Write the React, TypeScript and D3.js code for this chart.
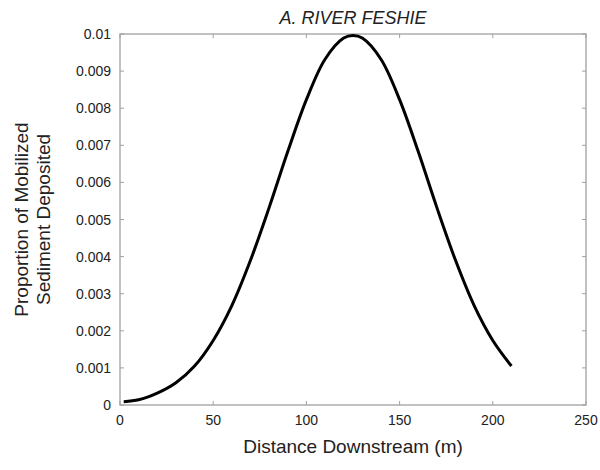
import React from "react";
import * as d3 from "d3";

const distance = [2, 10, 20, 30, 40, 50, 60, 70, 80, 90, 100, 110, 120, 125, 130, 140, 150, 160, 170, 180, 190, 200, 210];
const proportion = [0.00009, 0.00014, 0.00032, 0.0006, 0.00105, 0.00174, 0.00268, 0.0039, 0.00532, 0.00683, 0.00823, 0.00932, 0.00989, 0.00996, 0.00989, 0.00932, 0.00823, 0.00683, 0.00532, 0.0039, 0.00268, 0.00174, 0.00105];
const xTicks = [0, 50, 100, 150, 200, 250];
const yTicks = [0, 0.001, 0.002, 0.003, 0.004, 0.005, 0.006, 0.007, 0.008, 0.009, 0.01];
const yTickLabels = ["0", "0.001", "0.002", "0.003", "0.004", "0.005", "0.006", "0.007", "0.008", "0.009", "0.01"];

const W = 600, H = 470;
const L = 120, R = 586, T = 34, B = 405;
const FONT = "'Liberation Sans', Arial, sans-serif";

export default function App() {
  const x = d3.scaleLinear().domain([0, 250]).range([L, R]);
  const y = d3.scaleLinear().domain([0, 0.01]).range([B, T]);
  const pts = distance.map((d, i) => [d, proportion[i]] as [number, number]);
  const line = d3.line<[number, number]>().x(d => x(d[0])).y(d => y(d[1])).curve(d3.curveCatmullRom.alpha(0.5));
  const axisColor = "#a0a0a0";
  const tl = 4;
  return (
    <svg width={W} height={H} style={{ position: "absolute", left: 0, top: 0, background: "#fff" }} fontFamily={FONT}>
      <rect x={L} y={T} width={R - L} height={B - T} fill="none" stroke={axisColor} strokeWidth={1.3} />
      {xTicks.map((t, i) => (
        <g key={"x" + i}>
          <line x1={x(t)} x2={x(t)} y1={B} y2={B - tl} stroke={axisColor} strokeWidth={1} />
          <line x1={x(t)} x2={x(t)} y1={T} y2={T + tl} stroke={axisColor} strokeWidth={1} />
          <text x={x(t)} y={B + 20} textAnchor="middle" fontSize={14} fill="#222">{t}</text>
        </g>
      ))}
      {yTicks.map((t, i) => (
        <g key={"y" + i}>
          <line x1={L} x2={L + tl} y1={y(t)} y2={y(t)} stroke={axisColor} strokeWidth={1} />
          <line x1={R} x2={R - tl} y1={y(t)} y2={y(t)} stroke={axisColor} strokeWidth={1} />
          <text x={L - 9} y={y(t) + 5} textAnchor="end" fontSize={14} fill="#222">{yTickLabels[i]}</text>
        </g>
      ))}
      <path d={line(pts) || ""} fill="none" stroke="#000" strokeWidth={3} strokeLinecap="butt" />
      <text x={(L + R) / 2} y={24} textAnchor="middle" fontSize={18} fontStyle="italic" fill="#222">A. RIVER FESHIE</text>
      <text x={(L + R) / 2} y={453} textAnchor="middle" fontSize={19} fill="#222">Distance Downstream (m)</text>
      <text transform={`translate(28, ${(T + B) / 2}) rotate(-90)`} textAnchor="middle" fontSize={19} fill="#222">Proportion of Mobilized</text>
      <text transform={`translate(50, ${(T + B) / 2}) rotate(-90)`} textAnchor="middle" fontSize={19} fill="#222">Sediment Deposited</text>
    </svg>
  );
}
